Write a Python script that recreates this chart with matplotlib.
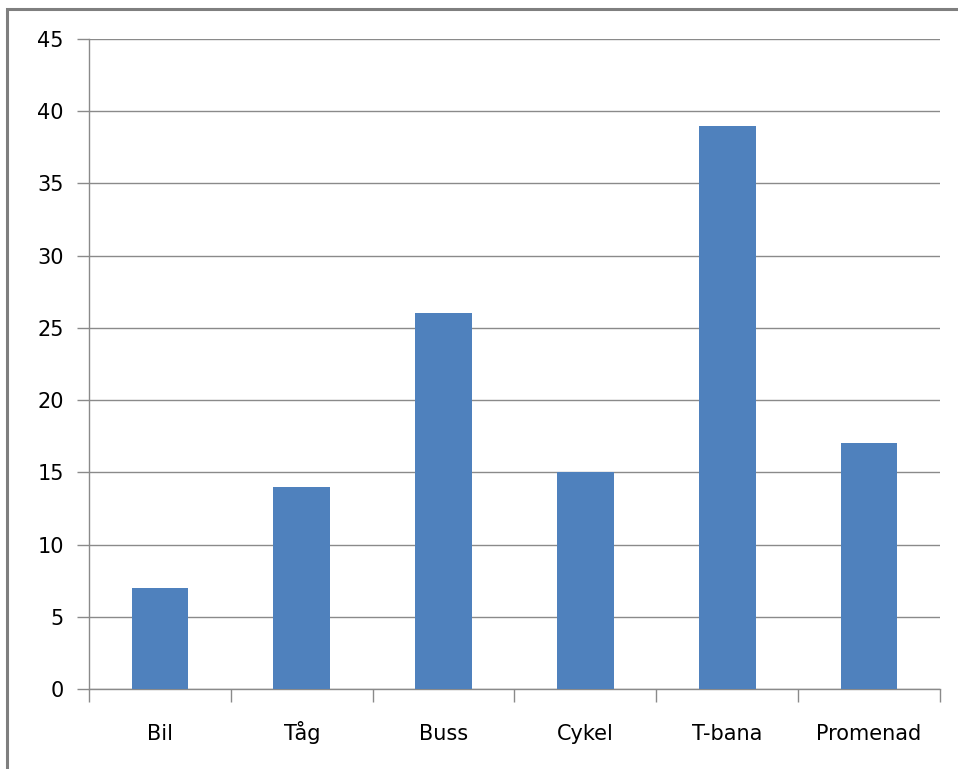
import matplotlib
matplotlib.use("Agg")
import matplotlib.pyplot as plt
from matplotlib.patches import Rectangle

# data
categories = ['Bil', 'Tåg', 'Buss', 'Cykel', 'T-bana', 'Promenad']
values = [7, 14, 26, 15, 39, 17]
yticks = [0, 5, 10, 15, 20, 25, 30, 35, 40, 45]

barColor = '#4F81BD'
lineColor = '#8a8a8a'

fig = plt.figure(figsize=(9.58, 7.69), dpi=100)
ax = fig.add_axes([89/958, 1-689/769, (940-89)/958, (689-39)/769])

#outer chart border (runs off the right and bottom edge)
fig.patches.append(Rectangle((7/958, -0.05), 1.1, 1-9/769+0.05, transform=fig.transFigure,
                             fill=False, edgecolor='#7f7f7f', linewidth=2.2, zorder=10))

x = list(range(len(categories)))
ax.bar(x, values, width=0.4, color=barColor, zorder=3)

ax.set_xlim(-0.5, len(categories)-0.5)
ax.set_ylim(0, 45)
ax.set_yticks(yticks)
ax.set_yticklabels([str(v) for v in yticks])
ax.yaxis.grid(True, color=lineColor, linewidth=1.0)
ax.set_axisbelow(True)

#category labels centered, tick marks between categories
ax.set_xticks(x)
ax.set_xticklabels(categories, va='baseline')
ax.set_xticks([i-0.5 for i in range(len(categories)+1)], minor=True)
ax.tick_params(axis='x', which='major', length=0, pad=37, labelsize=15)
ax.tick_params(axis='x', which='minor', length=9, width=1, color=lineColor, direction='out')
ax.tick_params(axis='y', length=9, width=1, color=lineColor, direction='out', pad=9, labelsize=15)

for s in ['top', 'right']:
    ax.spines[s].set_visible(False)
for s in ['left', 'bottom']:
    ax.spines[s].set_color(lineColor)
    ax.spines[s].set_linewidth(1)

fig.savefig('out.png', dpi=100)
